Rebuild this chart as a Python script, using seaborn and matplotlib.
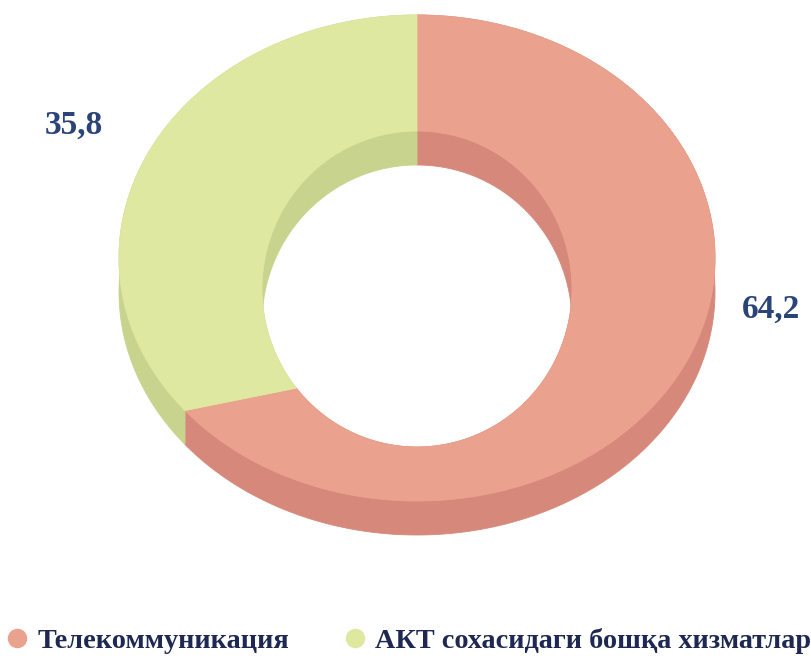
import matplotlib
matplotlib.use("Agg")
import matplotlib.pyplot as plt
from matplotlib.patches import Polygon
from matplotlib.lines import Line2D
import numpy as np
import seaborn as sns

# data
labels = ["Телекоммуникация", "АКТ сохасидаги бошқа хизматлар"]
values = [64.2, 35.8]
value_text = ["64,2", "35,8"]
top_colors = ["#EAA18D", "#DEE8A1"]
side_colors = ["#D6897A", "#C8D48D"]

sns.set_theme(style="white")
plt.rcParams["font.family"] = ["Liberation Serif", "DejaVu Serif"]

W, H = 811, 661
fig = plt.figure(figsize=(W / 100, H / 100), dpi=100)
ax = fig.add_axes([0, 0, 1, 1])

# let the library turn the values into wedge angles
ring_width = 0.48
wedges, _ = ax.pie(values, startangle=90, counterclock=False,
                   wedgeprops=dict(width=ring_width))
angles = [(w.theta1, w.theta2) for w in wedges]
for w in wedges:
    w.remove()

ax.set_xlim(0, W)
ax.set_ylim(H, 0)
ax.set_aspect("auto")
ax.axis("off")

# fake 3D view: outer and inner edges are drawn as different ellipses
CX = 417
OUT = dict(a=298, b=243, cy=258)
INN = dict(a=155, b=158, cy=289)
DEPTH = 34
r_in = 1 - ring_width


def project(theta, rho, z):
    th = np.radians(theta)
    t = (rho - r_in) / (1 - r_in)
    a = INN["a"] + t * (OUT["a"] - INN["a"])
    b = INN["b"] + t * (OUT["b"] - INN["b"])
    cy = INN["cy"] + t * (OUT["cy"] - INN["cy"])
    return np.column_stack([CX + a * np.cos(th), cy + z * DEPTH - b * np.sin(th)])


def band(th, rho1, z1, rho2, z2):
    return np.vstack([project(th, rho1, z1), project(th[::-1], rho2, z2)])


for (t1, t2), top, side in zip(angles, top_colors, side_colors):
    th = np.linspace(t1, t2, 300)
    # outer and inner walls
    for rho in (1.0, r_in):
        ax.add_patch(Polygon(band(th, rho, 0, rho, 1), closed=True,
                             facecolor=side, edgecolor=side, lw=0.6, zorder=1))
    # top face
    ax.add_patch(Polygon(band(th, 1.0, 0, r_in, 0), closed=True,
                         facecolor=top, edgecolor=top, lw=0.6, zorder=2))

# value labels
label_pos = [(771, 309), (74, 125)]
for txt, (x, y) in zip(value_text, label_pos):
    ax.text(x, y, txt, ha="center", va="center", fontsize=24,
            fontweight="bold", color="#2B4478", zorder=3)

handles = [Line2D([], [], marker="o", ls="", markersize=13,
                  markerfacecolor=c, markeredgecolor=c) for c in top_colors]
ax.legend(handles, labels, loc="center left", bbox_to_anchor=(0.004, 0.031),
          ncol=2, frameon=False, borderaxespad=0, borderpad=0,
          handletextpad=0.2, columnspacing=1.85, handlelength=1.0,
          prop=dict(family=["Liberation Serif", "DejaVu Serif"],
                    weight="bold", size=20.3),
          labelcolor="#1F2852")

fig.savefig("out.png", dpi=100)
